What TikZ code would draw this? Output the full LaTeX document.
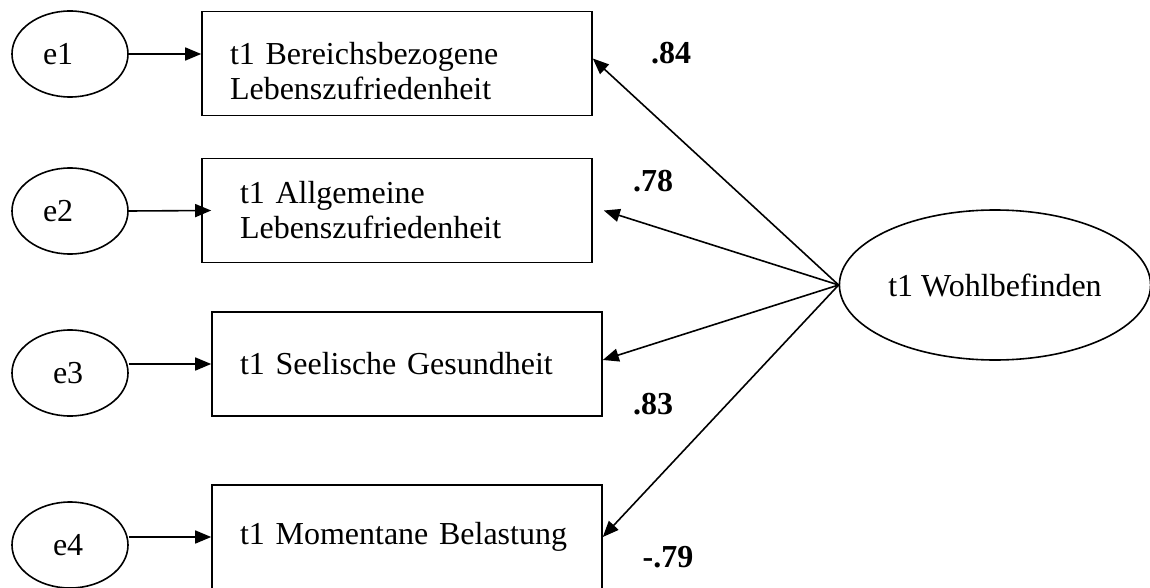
\documentclass[tikz,border=0pt]{standalone}
\usepackage{fontspec}
\setmainfont{Liberation Serif}
\usetikzlibrary{arrows.meta,shapes.geometric}

\begin{document}
\begin{tikzpicture}[x=1pt,y=-1pt,
  every node/.style={font=\fontsize{32}{35}\selectfont},
  err/.style={draw, ellipse, line width=1.6pt, minimum width=116pt, minimum height=86pt, inner sep=0pt, text width=#1, align=left},
  box/.style={draw, rectangle, line width=1.6pt, minimum height=104pt, text width=334pt, inner xsep=28pt, align=left},
  arr/.style={line width=1.6pt, -{Triangle[length=16pt,width=13pt]}},
  coef/.style={font=\fontsize{32}{35}\selectfont\bfseries, inner sep=0pt}]
\useasboundingbox (0,0) rectangle (1150,588);

\node[box, text height=38pt] (b1) at (397,63.5) {t1 Bereichsbezogene\\Lebenszufriedenheit};
\node[box, text width=314pt, inner xsep=38pt] (b2) at (397,210.5) {t1 Allgemeine\\Lebenszufriedenheit};
\node[box] (b3) at (407,364) {t1 Seelische Gesundheit};
\node[box] (b4) at (407,537) {t1 Momentane Belastung};

\node[err=54pt] (e1) at (70,54) {e1};
\node[err=54pt] (e2) at (70,211) {e2};
\node[err=34pt] (e3) at (70,373) {e3};
\node[err=34pt] (e4) at (70,545) {e4};

\node[draw, ellipse, line width=1.6pt, minimum width=310pt, minimum height=150pt] (wb) at (995,285) {t1 Wohlbefinden};

\draw[arr] (e1.east) -- (e1.east -| b1.west);
\draw[arr] (e2.east) -- ([xshift=10pt]b2.west);
\draw[arr] (e3.east |- b3.west) -- (b3.west);
\draw[arr] (e4.east |- b4.west) -- (b4.west);

\draw[arr] (wb.west) -- ([yshift=5pt]b1.east);
\draw[arr] (wb.west) -- ([xshift=11pt]b2.east);
\draw[arr] (wb.west) -- ([yshift=4pt]b3.east);
\draw[arr] (wb.west) -- (b4.east);

\node[coef] (l1) at (671,53) {.84};
\node[coef] (l2) at (653,181) {.78};
\node[coef] (l3) at (653,404) {.83};
\node[coef] (l4) at (668,557) {-.79};
\end{tikzpicture}
\end{document}
